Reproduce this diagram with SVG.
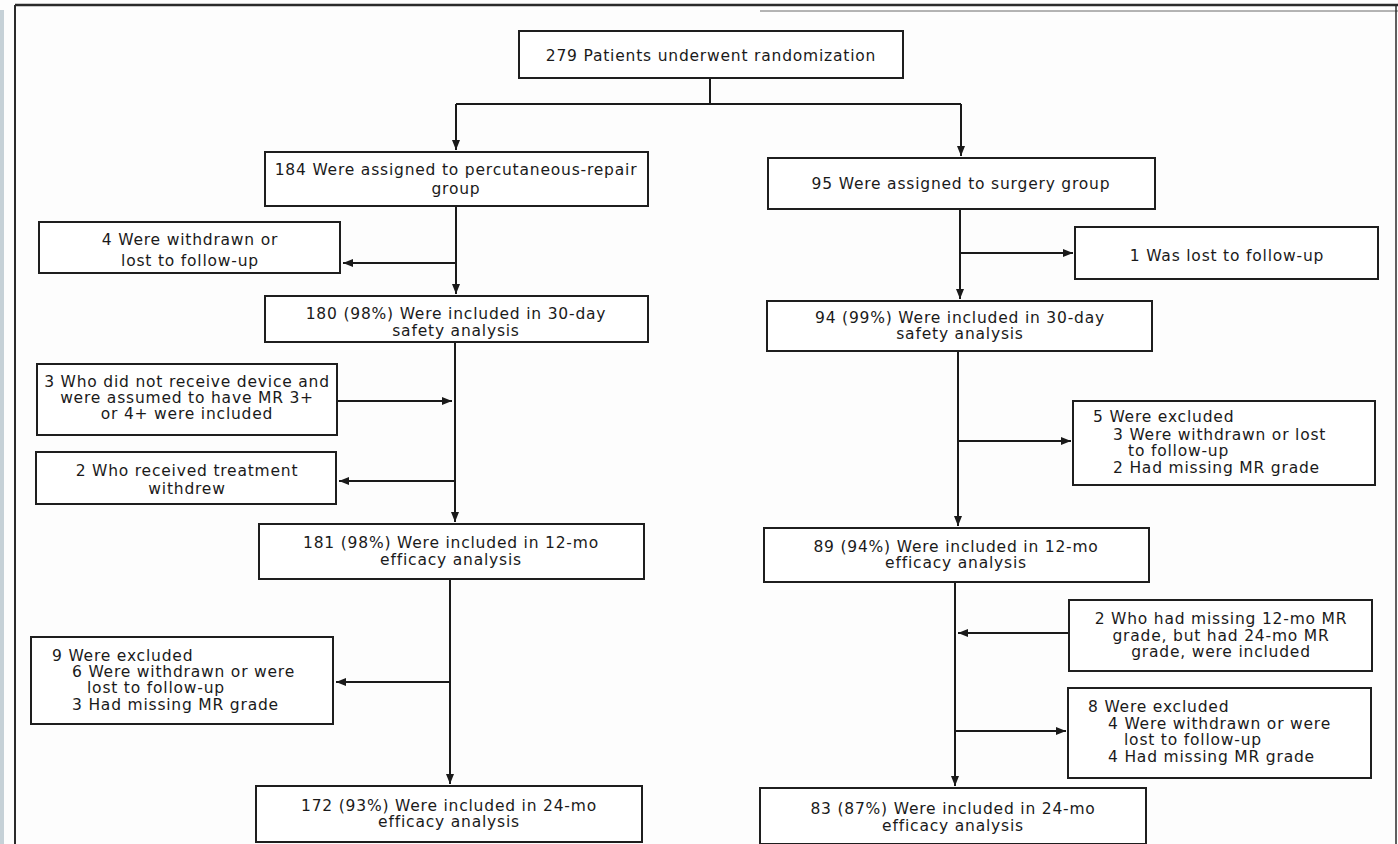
<svg xmlns="http://www.w3.org/2000/svg" width="1398" height="844" viewBox="0 0 1398 844">
<defs>
<marker id="ah" viewBox="0 0 10 10" refX="10" refY="5" markerWidth="10" markerHeight="10" markerUnits="userSpaceOnUse" orient="auto">
<path d="M0,1 L10,5 L0,9 Z" fill="#1a1a1a"/>
</marker>
</defs>
<style>
.box{fill:#ffffff;stroke:#1e1e1e;stroke-width:2}
.t{font-family:"DejaVu Sans",sans-serif;font-size:15.5px;letter-spacing:0.8px;fill:#1a1a1a}
.c{text-anchor:middle}
.ln{fill:none;stroke:#1a1a1a;stroke-width:2}
.ar{fill:none;stroke:#1a1a1a;stroke-width:2;marker-end:url(#ah)}
</style>
<rect x="0" y="0" width="1398" height="844" fill="#fdfdfd"/>
<rect x="0" y="10" width="4" height="834" fill="#c6d1d7"/>
<g id="frame">
<line x1="15" y1="5" x2="1398" y2="5" stroke="#2a2a2a" stroke-width="2.5"/>
<line x1="760" y1="11" x2="1398" y2="11" stroke="#6a6a6a" stroke-width="1"/>
<line x1="15" y1="5" x2="15" y2="844" stroke="#2a2a2a" stroke-width="2"/>
<line x1="1396" y1="5" x2="1396" y2="844" stroke="#2a2a2a" stroke-width="1.5"/>
</g>
<g id="connectors">
<path class="ln" d="M710,78 V104 M456,104 H961"/>
<path class="ar" d="M456,104 V150"/>
<path class="ar" d="M961,104 V156"/>
<path class="ar" d="M456,206 V294"/>
<path class="ar" d="M456,263 H343"/>
<path class="ar" d="M960,209 V299"/>
<path class="ar" d="M960,253 H1073"/>
<path class="ar" d="M455,342 V522"/>
<path class="ar" d="M338,401 H452"/>
<path class="ar" d="M455,481 H339"/>
<path class="ar" d="M958,351 V526"/>
<path class="ar" d="M958,441 H1071"/>
<path class="ar" d="M450,579 V784"/>
<path class="ar" d="M450,682 H336"/>
<path class="ar" d="M955,582 V786"/>
<path class="ar" d="M1069,633 H958"/>
<path class="ar" d="M955,731 H1066"/>
</g>
<g id="n_random">
<rect class="box" x="519" y="31" width="384" height="47"/>
<text class="t c" x="711" y="61">279 Patients underwent randomization</text>
</g>
<g id="n_percut">
<rect class="box" x="265" y="152" width="383" height="54"/>
<text class="t c" x="456" y="175">184 Were assigned to percutaneous-repair</text>
<text class="t c" x="456" y="194">group</text>
</g>
<g id="n_surgery">
<rect class="box" x="768" y="158" width="387" height="51"/>
<text class="t c" x="961" y="189">95 Were assigned to surgery group</text>
</g>
<g id="n_withdrawn4">
<rect class="box" x="39" y="222" width="301" height="51"/>
<text class="t c" x="190" y="245">4 Were withdrawn or</text>
<text class="t c" x="190" y="266">lost to follow-up</text>
</g>
<g id="n_lost1">
<rect class="box" x="1075" y="227" width="303" height="52"/>
<text class="t c" x="1227" y="261">1 Was lost to follow-up</text>
</g>
<g id="n_safety_p">
<rect class="box" x="265" y="296" width="383" height="46"/>
<text class="t c" x="456" y="319">180 (98%) Were included in 30-day</text>
<text class="t c" x="456" y="336">safety analysis</text>
</g>
<g id="n_safety_s">
<rect class="box" x="767" y="301" width="385" height="50"/>
<text class="t c" x="960" y="323">94 (99%) Were included in 30-day</text>
<text class="t c" x="960" y="339">safety analysis</text>
</g>
<g id="n_nodevice">
<rect class="box" x="37" y="364" width="300" height="71"/>
<text class="t c" x="187" y="387">3 Who did not receive device and</text>
<text class="t c" x="187" y="403">were assumed to have MR 3+</text>
<text class="t c" x="187" y="419">or 4+ were included</text>
</g>
<g id="n_excl5">
<rect class="box" x="1073" y="401" width="302" height="84"/>
<text class="t" x="1093" y="422">5 Were excluded</text>
<text class="t" x="1113" y="440">3 Were withdrawn or lost</text>
<text class="t" x="1128" y="456">to follow-up</text>
<text class="t" x="1113" y="473">2 Had missing MR grade</text>
</g>
<g id="n_treatwd">
<rect class="box" x="36" y="452" width="300" height="52"/>
<text class="t c" x="187" y="476">2 Who received treatment</text>
<text class="t c" x="187" y="494">withdrew</text>
</g>
<g id="n_12mo_p">
<rect class="box" x="259" y="524" width="385" height="55"/>
<text class="t c" x="451" y="548">181 (98%) Were included in 12-mo</text>
<text class="t c" x="451" y="565">efficacy analysis</text>
</g>
<g id="n_12mo_s">
<rect class="box" x="764" y="528" width="385" height="54"/>
<text class="t c" x="956" y="552">89 (94%) Were included in 12-mo</text>
<text class="t c" x="956" y="568">efficacy analysis</text>
</g>
<g id="n_missing12">
<rect class="box" x="1069" y="600" width="303" height="71"/>
<text class="t c" x="1221" y="624">2 Who had missing 12-mo MR</text>
<text class="t c" x="1221" y="641">grade, but had 24-mo MR</text>
<text class="t c" x="1221" y="657">grade, were included</text>
</g>
<g id="n_excl9">
<rect class="box" x="31" y="637" width="302" height="87"/>
<text class="t" x="52" y="661">9 Were excluded</text>
<text class="t" x="72" y="677">6 Were withdrawn or were</text>
<text class="t" x="87" y="693">lost to follow-up</text>
<text class="t" x="72" y="710">3 Had missing MR grade</text>
</g>
<g id="n_excl8">
<rect class="box" x="1068" y="688" width="303" height="90"/>
<text class="t" x="1088" y="712">8 Were excluded</text>
<text class="t" x="1108" y="729">4 Were withdrawn or were</text>
<text class="t" x="1124" y="745">lost to follow-up</text>
<text class="t" x="1108" y="762">4 Had missing MR grade</text>
</g>
<g id="n_24mo_p">
<rect class="box" x="256" y="786" width="386" height="56"/>
<text class="t c" x="449" y="811">172 (93%) Were included in 24-mo</text>
<text class="t c" x="449" y="827">efficacy analysis</text>
</g>
<g id="n_24mo_s">
<rect class="box" x="760" y="788" width="386" height="56"/>
<text class="t c" x="953" y="814">83 (87%) Were included in 24-mo</text>
<text class="t c" x="953" y="831">efficacy analysis</text>
</g>
</svg>
